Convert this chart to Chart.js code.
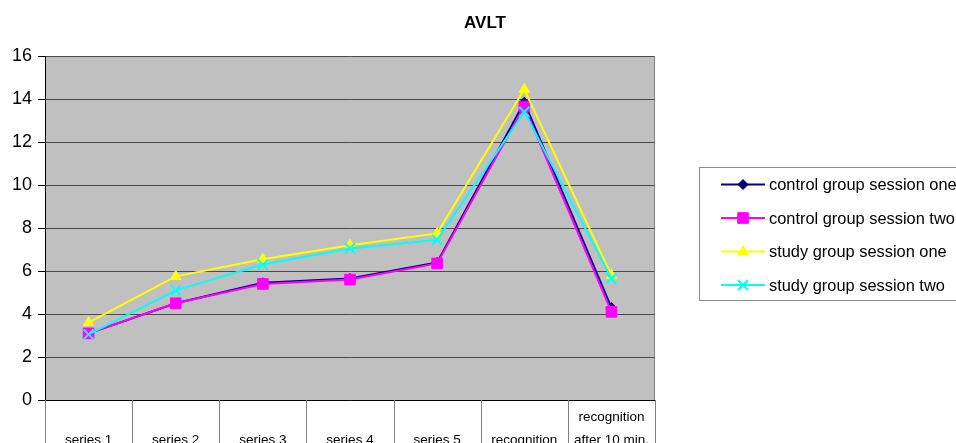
<!DOCTYPE html>
<html>
<head>
<meta charset="utf-8">
<title>AVLT</title>
<script src="https://cdn.jsdelivr.net/npm/chart.js@4/dist/chart.umd.min.js"></script>
<style>
  html, body { margin: 0; padding: 0; background: #ffffff; }
  #wrap { width: 956px; height: 443px; position: relative; }
</style>
</head>
<body>
<div id="wrap"><canvas id="avlt" width="956" height="443"></canvas></div>
<script>
// Trial categories of the Auditory Verbal Learning Test
const categories = ["series 1", "series 2", "series 3", "series 4", "series 5", "recognition", ["recognition", "after 10 min."]];

// Mean recalled words per group and session
const controlSessionOne = [3.1, 4.5, 5.45, 5.65, 6.4, 13.85, 4.3];
const controlSessionTwo = [3.1, 4.5, 5.4, 5.6, 6.35, 13.65, 4.1];
const studySessionOne   = [3.6, 5.75, 6.55, 7.2, 7.75, 14.45, 5.8];
const studySessionTwo   = [3.05, 5.1, 6.3, 7.05, 7.45, 13.4, 5.65];

const seriesNames = ["control group session one", "control group session two", "study group session one", "study group session two"];
const yTicks = [0, 2, 4, 6, 8, 10, 12, 14, 16];

const FONT = "'Liberation Sans', Arial, sans-serif";

const styles = [
  { color: "#000080", pointStyle: "rectRot",  radius: 5,   borderWidth: 1 },
  { color: "#FF00FF", pointStyle: "rect",     radius: 7.5, borderWidth: 1 },
  { color: "#FFFF00", pointStyle: "triangle", radius: 6,   borderWidth: 1 },
  { color: "#00FFFF", pointStyle: "crossRot", radius: 7,   borderWidth: 2 }
];
const values = [controlSessionOne, controlSessionTwo, studySessionOne, studySessionTwo];

const datasets = values.map((data, i) => ({
  label: seriesNames[i],
  data: data,
  borderColor: styles[i].color,
  backgroundColor: styles[i].color,
  borderWidth: 2,
  pointStyle: styles[i].pointStyle,
  pointRadius: styles[i].radius,
  pointHoverRadius: styles[i].radius,
  pointBackgroundColor: styles[i].color,
  pointBorderColor: styles[i].color,
  pointBorderWidth: styles[i].borderWidth,
  tension: 0,
  fill: false,
  order: values.length - 1 - i   // later series sit on top
}));

// Grey plot area, right edge and the title
const plotFrame = {
  id: "plotFrame",
  beforeDraw(chart) {
    const { ctx, chartArea: a } = chart;
    ctx.save();
    ctx.fillStyle = "#C0C0C0";
    ctx.fillRect(a.left, a.top, a.right - a.left, a.bottom - a.top);
    ctx.restore();
  },
  beforeDatasetsDraw(chart) {
    const { ctx, chartArea: a } = chart;
    ctx.save();
    ctx.strokeStyle = "#808080";
    ctx.lineWidth = 1;
    ctx.beginPath();
    ctx.moveTo(Math.round(a.right) - 0.5, a.top);
    ctx.lineTo(Math.round(a.right) - 0.5, a.bottom);
    ctx.stroke();
    ctx.restore();
  },
  afterDraw(chart) {
    const { ctx } = chart;
    ctx.save();
    ctx.fillStyle = "#000";
    ctx.font = "bold 17px " + FONT;
    ctx.textAlign = "center";
    ctx.textBaseline = "alphabetic";
    ctx.fillText("AVLT", 485, 28);
    ctx.restore();
  }
};

// Category table below the axis: dividers and labels
const categoryTable = {
  id: "categoryTable",
  afterDraw(chart) {
    const { ctx, chartArea: a } = chart;
    const x = chart.scales.x;
    const n = categories.length;
    const step = x.getPixelForValue(1) - x.getPixelForValue(0);
    ctx.save();
    ctx.strokeStyle = "#808080";
    ctx.lineWidth = 1;
    for (let i = 0; i <= n; i++) {
      const px = Math.round(x.getPixelForValue(i) - step / 2) + 0.5;
      ctx.beginPath();
      ctx.moveTo(px, a.bottom);
      ctx.lineTo(px, chart.height);
      ctx.stroke();
    }
    ctx.fillStyle = "#000";
    ctx.font = "13.5px " + FONT;
    ctx.textAlign = "center";
    ctx.textBaseline = "alphabetic";
    categories.forEach((c, i) => {
      const lines = Array.isArray(c) ? c : [c];
      const cx = x.getPixelForValue(i);
      lines.forEach((t, j) => {
        ctx.fillText(t, cx, 443.5 - (lines.length - 1 - j) * 23);
      });
    });
    ctx.restore();
  }
};

// Boxed legend on the right
const sideLegend = {
  id: "sideLegend",
  afterDraw(chart) {
    const { ctx } = chart;
    ctx.save();
    ctx.fillStyle = "#ffffff";
    ctx.fillRect(699.5, 167.5, 270, 133);
    ctx.strokeStyle = "#8c8c8c";
    ctx.lineWidth = 1;
    ctx.strokeRect(699.5, 167.5, 270, 133);
    const rowY = [184.5, 218, 251.5, 285];
    seriesNames.forEach((name, i) => {
      const st = styles[i];
      const y = rowY[i];
      ctx.strokeStyle = st.color;
      ctx.fillStyle = st.color;
      ctx.lineWidth = 2;
      ctx.beginPath();
      ctx.moveTo(721, y);
      ctx.lineTo(765, y);
      ctx.stroke();
      ctx.lineWidth = st.borderWidth;
      Chart.helpers.drawPoint(ctx, {
        pointStyle: st.pointStyle,
        radius: st.radius,
        rotation: 0,
        borderWidth: st.borderWidth
      }, 743, y);
      ctx.fillStyle = "#000";
      ctx.font = "16.4px " + FONT;
      ctx.textAlign = "left";
      ctx.textBaseline = "middle";
      ctx.fillText(name, 769, y + 1);
    });
    ctx.restore();
  }
};

new Chart(document.getElementById("avlt"), {
  type: "line",
  data: { labels: categories, datasets: datasets },
  options: {
    responsive: false,
    animation: false,
    devicePixelRatio: 1,
    layout: { padding: { left: 0, top: 56, right: 301, bottom: 43 } },
    plugins: {
      legend: { display: false },
      title: { display: false },
      tooltip: { enabled: false }
    },
    scales: {
      x: {
        type: "category",
        offset: true,
        grid: { display: false },
        ticks: { display: false },
        border: { display: true, color: "#000", width: 1 },
        afterFit(scale) { scale.height = 0; }
      },
      y: {
        min: 0,
        max: 16,
        afterBuildTicks(scale) { scale.ticks = yTicks.map(v => ({ value: v })); },
        ticks: {
          color: "#000",
          font: { family: FONT, size: 18 },
          padding: 6
        },
        grid: {
          color: "#4a4a4a",
          tickColor: "#000",
          tickLength: 7,
          lineWidth: 1
        },
        border: { display: true, color: "#000", width: 1 },
        afterFit(scale) { scale.width = 45; }
      }
    }
  },
  plugins: [plotFrame, categoryTable, sideLegend]
});
</script>
</body>
</html>
